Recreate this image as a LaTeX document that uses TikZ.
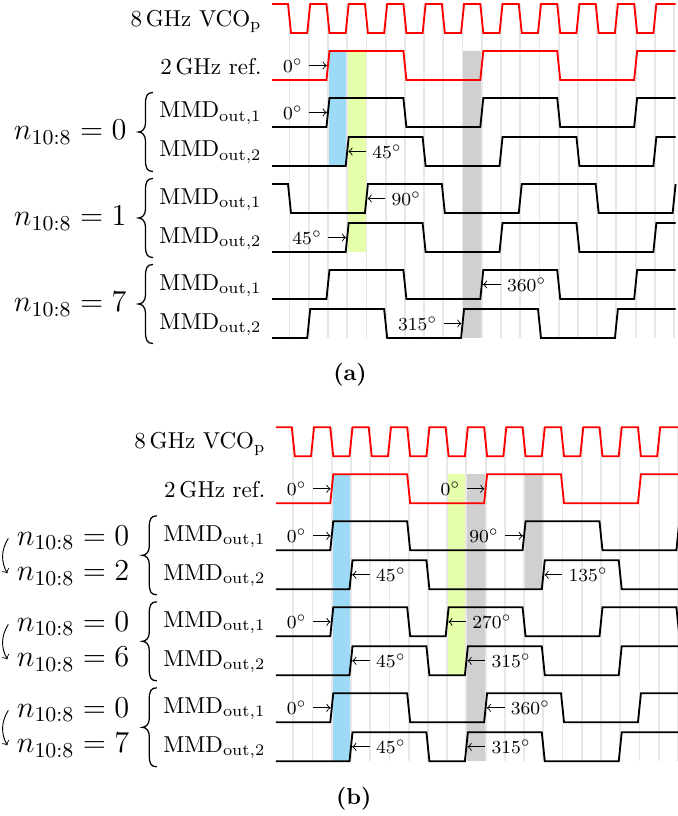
\RequirePackage{fix-cm}
\documentclass[tikz,border=0pt]{standalone}
\usepackage{amsmath}

\definecolor{phaseblue}{RGB}{157,218,245}
\definecolor{phaselime}{RGB}{230,255,170}
\definecolor{phasegray}{RGB}{208,208,208}

% x position of the k-th VCO edge
\newcommand{\tk}[1]{289.5+19.23*(#1)}

\tikzset{
  sig/.style={thick},
  vco/.style={thick, red},
  gridln/.style={gray!18, line width=0.8pt},
  deg/.style={font=\footnotesize, inner sep=2.5pt},
  rowlbl/.style={anchor=base east, inner sep=0pt},
  nlbl/.style={anchor=base east, inner sep=0pt, font=\fontsize{13.2}{15}\selectfont},
  bracestroke/.style={line width=0.55pt},
}

% waveform: style, top y, start level, list of edges
\newcommand{\wave}[4]{%
  \draw[#1] (272,{#2+29*(1-#3)})
    \foreach \e [count=\i] in {#4} {
      -- ({\tk{\e}-1.5},{#2+29*(1-mod(#3+\i-1,2))})
      -- ({\tk{\e}+1.5},{#2+29*mod(#3+\i-1,2)}) coordinate (wlast)
    } -- (wlast -| wend);}

% phase labels, left or right of an edge
\newcommand{\degL}[4]{%
  \coordinate (#1) at ({\tk{#2}-1.2},#3);
  \node[deg, anchor=east] (#1t) at ({\tk{#2}-19},#3) {$#4^\circ$};
  \draw[->] (#1t) -- (#1);}
\newcommand{\degR}[4]{%
  \coordinate (#1) at ({\tk{#2}+1.2},#3);
  \node[deg, anchor=west] (#1t) at ({\tk{#2}+19},#3) {$#4^\circ$};
  \draw[->] (#1t) -- (#1);}

% curly brace round a pair of rows, centre y
\newcommand{\grpbrace}[1]{%
  \draw[bracestroke] (153,#1-39.5) .. controls (147,#1-39.5) and (145.5,#1-36) .. (145.5,#1-28)
    -- (145.5,#1-9) .. controls (145.5,#1-3) and (142,#1) .. (138.5,#1)
    .. controls (142,#1) and (145.5,#1+3) .. (145.5,#1+9)
    -- (145.5,#1+28) .. controls (145.5,#1+36) and (147,#1+39.5) .. (153,#1+39.5);}

\begin{document}
\begin{tikzpicture}[x=0.4348pt, y=-0.4348pt]
\useasboundingbox (0,0) rectangle (678,816);
\clip (0,0) rectangle (678,816);

% ---------------- (a)
\begin{scope}
  \coordinate (wend) at ({\tk{20}+1.5},0);
  % phase windows
  \fill[phaseblue] ({\tk{2}},51) rectangle ({\tk{3}},166);
  \fill[phaselime] ({\tk{3}},51) rectangle ({\tk{4}},252);
  \fill[phasegray] ({\tk{9}},51) rectangle ({\tk{10}},338);
  \foreach \k in {0,...,20}
    \draw[gridln] ({\tk{\k}},4) -- ({\tk{\k}},338);

  % signals
  \wave{vco}{4}{1}{0,...,19}
  \wave{vco}{51}{0}{2,6,10,14,18}
  \wave{sig}{98}{0}{2,6,10,14,18}
  \wave{sig}{137}{0}{3,7,11,15,19}
  \wave{sig}{184}{1}{0,4,8,12,16,20}
  \wave{sig}{223}{0}{3,7,11,15,19}
  \wave{sig}{270}{0}{2,6,10,14,18}
  \wave{sig}{309}{0}{1,5,9,13,17}

  % names
  \node[rowlbl] (vcoA) at (262,26.5) {8\,GHz VCO$_\mathrm{p}$};
  \node[rowlbl] (refA) at (262,75) {2\,GHz ref.};
  \foreach \y/\o [count=\r] in {98/1,137/2,184/1,223/2,270/1,309/2}
    \node[rowlbl] (mmdA\r) at (262,\y+20) {MMD$_{\mathrm{out},\o}$};
  \grpbrace{132}
  \grpbrace{218}
  \grpbrace{304}
  \node[nlbl] (nA1) at (127,139.7) {$n_{10:8}=0$};
  \node[nlbl] (nA2) at (127,225.7) {$n_{10:8}=1$};
  \node[nlbl] (nA3) at (127,311.7) {$n_{10:8}=7$};

  % phases
  \degL{pa1}{2}{65.5}{0}
  \degL{pa2}{2}{112.5}{0}
  \degR{pa3}{3}{151.5}{45}
  \degR{pa4}{4}{198.5}{90}
  \degL{pa5}{3}{237.5}{45}
  \degR{pa6}{10}{284.5}{360}
  \degL{pa7}{9}{323.5}{315}

  \node[font=\bfseries] (capA) at (350,375) {(a)};
\end{scope}

% ---------------- (b)
\begin{scope}[shift={(3.8,423.3)}]
  \coordinate (wend) at ({\tk{20}+1.5},0);
  % phase windows
  \fill[phaseblue] ({\tk{2}},51) rectangle ({\tk{3}},338);
  \fill[phaselime] ({\tk{8}},51) rectangle ({\tk{9}},252);
  \fill[phasegray] ({\tk{9}},51) rectangle ({\tk{10}},338);
  \fill[phasegray] ({\tk{12}},51) rectangle ({\tk{13}},166);
  \foreach \k in {0,...,20}
    \draw[gridln] ({\tk{\k}},4) -- ({\tk{\k}},338);

  % signals
  \wave{vco}{4}{1}{0,...,19}
  \wave{vco}{51}{0}{2,6,10,14,18}
  \wave{sig}{98}{0}{2,6,12,16,20}
  \wave{sig}{137}{0}{3,7,13,17}
  \wave{sig}{184}{0}{2,6,8,12,16,20}
  \wave{sig}{223}{0}{3,7,9,13,17}
  \wave{sig}{270}{0}{2,6,10,14,18}
  \wave{sig}{309}{0}{3,7,9,13,17}

  % names
  \node[rowlbl] (vcoB) at (262,25.5) {8\,GHz VCO$_\mathrm{p}$};
  \node[rowlbl] (refB) at (262,74.5) {2\,GHz ref.};
  \foreach \y/\o [count=\r] in {98/1,137/2,184/1,223/2,270/1,309/2}
    \node[rowlbl] (mmdB\r) at (262,\y+20) {MMD$_{\mathrm{out},\o}$};
  \grpbrace{132}
  \grpbrace{218}
  \grpbrace{304}
  \node[nlbl] (nB1) at (126,121.7) {$n_{10:8}=0$};
  \node[nlbl] (nB2) at (126,157.3) {$n_{10:8}=2$};
  \node[nlbl] (nB3) at (126,207.7) {$n_{10:8}=0$};
  \node[nlbl] (nB4) at (126,243.3) {$n_{10:8}=6$};
  \node[nlbl] (nB5) at (126,293.7) {$n_{10:8}=0$};
  \node[nlbl] (nB6) at (126,329.3) {$n_{10:8}=7$};
  % switching arrows
  \foreach \d [count=\g] in {0,86,172} {
    \coordinate (cs\g) at (4.5,115+\d);
    \coordinate (ce\g) at (3.5,150+\d);
    \draw[->] (cs\g) to[bend right=30] (ce\g);
  }

  % phases
  \degL{pb1}{2}{65.5}{0}
  \degL{pb2}{10}{65.5}{0}
  \degL{pb3}{2}{112.5}{0}
  \degL{pb4}{12}{112.5}{90}
  \degR{pb5}{3}{151.5}{45}
  \degR{pb6}{13}{151.5}{135}
  \degL{pb7}{2}{198.5}{0}
  \degR{pb8}{8}{198.5}{270}
  \degR{pb9}{3}{237.5}{45}
  \degR{pb10}{9}{237.5}{315}
  \degL{pb11}{2}{284.5}{0}
  \degR{pb12}{10}{284.5}{360}
  \degR{pb13}{3}{323.5}{45}
  \degR{pb14}{9}{323.5}{315}

  \node[font=\bfseries] (capB) at (350,375) {(b)};
\end{scope}
\end{tikzpicture}
\end{document}
